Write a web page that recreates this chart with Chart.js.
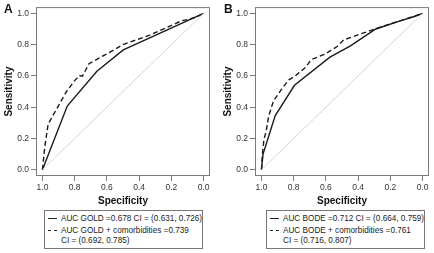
<!DOCTYPE html>
<html>
<head>
<meta charset="utf-8">
<script src="https://cdn.jsdelivr.net/npm/chart.js@4"></script>
<style>
  body { margin: 0; width: 434px; height: 253px; overflow: hidden; background: #fff; position: relative;
         font-family: "Liberation Sans", Arial, sans-serif; }
  canvas { position: absolute; top: 0; }
  #cA { left: 0; }
  #cB { left: 219px; }
  .tag { position: absolute; top: 2px; font-weight: bold; font-size: 12px; color: #111; }
  .legend { position: absolute; top: 210px; width: 157px; height: 37px; border: 1px solid #777;
            font-size: 8.2px; line-height: 10px; color: #222; }
  .row { position: absolute; white-space: nowrap; }
  .smp { display: inline-block; width: 9px; vertical-align: middle; border-top: 1px solid #222; margin-right: 4px; }
  .smp.dash { border-top-style: dashed; }
</style>
</head>
<body>
<canvas id="cA" width="217" height="208"></canvas>
<canvas id="cB" width="215" height="208"></canvas>
<div class="tag" style="left:4px">A</div>
<div class="tag" style="left:224px">B</div>

<div class="legend" style="left:44px">
  <div class="row" style="left:3px; top:3px"><span class="smp"></span>AUC GOLD =0.678 CI = (0.631, 0.726)</div>
  <div class="row" style="left:3px; top:15px"><span class="smp dash"></span>AUC GOLD + comorbidities =0.739</div>
  <div class="row" style="left:16px; top:25px">CI = (0.692, 0.785)</div>
</div>
<div class="legend" style="left:266px">
  <div class="row" style="left:3px; top:3px"><span class="smp"></span>AUC BODE =0.712 CI = (0.664, 0.759)</div>
  <div class="row" style="left:3px; top:15px"><span class="smp dash"></span>AUC BODE + comorbidities =0.761</div>
  <div class="row" style="left:16px; top:25px">CI = (0.716, 0.807)</div>
</div>

<script>
// osy
const tickVals = [0, 0.2, 0.4, 0.6, 0.8, 1.0];

// panel A - GOLD
const goldSpec = [1.0, 0.846, 0.662, 0.498, 0.0];
const goldSens = [0.0, 0.407, 0.630, 0.766, 1.0];
const goldComSpec = [1.0, 0.985, 0.965, 0.944, 0.90, 0.851, 0.80, 0.769, 0.752, 0.711, 0.583, 0.50, 0.335, 0.135, 0.10, 0.05, 0.0];
const goldComSens = [0.0, 0.15, 0.29, 0.33, 0.41, 0.50, 0.57, 0.602, 0.598, 0.678, 0.751, 0.80, 0.861, 0.953, 0.96, 0.975, 1.0];

// panel B - BODE
const bodeSpec = [1.0, 0.99, 0.915, 0.795, 0.575, 0.45, 0.29, 0.13, 0.05, 0.0];
const bodeSens = [0.0, 0.10, 0.345, 0.54, 0.72, 0.79, 0.90, 0.955, 0.98, 1.0];
const bodeComSpec = [1.0, 0.995, 0.985, 0.97, 0.955, 0.925, 0.875, 0.83, 0.79, 0.727, 0.69, 0.61, 0.53, 0.49, 0.38, 0.21, 0.13, 0.0];
const bodeComSens = [0.0, 0.09, 0.19, 0.25, 0.345, 0.44, 0.515, 0.575, 0.60, 0.654, 0.705, 0.737, 0.788, 0.83, 0.87, 0.93, 0.955, 1.0];

// referencni diagonala
const refSpec = [1.0, 0.0];
const refSens = [0.0, 1.0];

const FONT = '"Liberation Sans", Arial, sans-serif';

function pts(xs, ys) {
    return xs.map((x, i) => ({ x: x, y: ys[i] }));
}

// ramecek kolem plochy grafu
const framePlugin = {
    id: 'frame',
    afterDraw(chart) {
        const a = chart.chartArea;
        const ctx = chart.ctx;
        ctx.save();
        ctx.strokeStyle = '#7a7a7a';
        ctx.lineWidth = 1;
        ctx.strokeRect(a.left + 0.5, a.top + 0.5, a.right - a.left - 1, a.bottom - a.top - 1);
        ctx.restore();
    }
};

function makeChart(id, spec, sens, comSpec, comSens) {
    const ctx = document.getElementById(id).getContext('2d');
    new Chart(ctx, {
        type: 'scatter',
        data: {
            datasets: [
                { data: pts(refSpec, refSens), showLine: true, borderColor: '#d4d4d4', borderWidth: 1, pointRadius: 0 },
                { data: pts(comSpec, comSens), showLine: true, borderColor: '#1a1a1a', borderWidth: 1.4, borderDash: [5, 3], pointRadius: 0 },
                { data: pts(spec, sens), showLine: true, borderColor: '#1a1a1a', borderWidth: 1.4, pointRadius: 0 }
            ]
        },
        options: {
            responsive: false,
            animation: false,
            layout: { padding: { top: 1, right: id === 'cA' ? 7 : 5, left: 0, bottom: 0 } },
            plugins: { legend: { display: false }, tooltip: { enabled: false } },
            scales: {
                x: {
                    type: 'linear', reverse: true, min: -0.04, max: 1.04,
                    afterBuildTicks: s => { s.ticks = tickVals.map(v => ({ value: v })); },
                    afterFit: s => { s.height = 32; },
                    grid: { drawOnChartArea: false, tickLength: 5, color: '#7a7a7a' },
                    border: { display: false },
                    ticks: { font: { family: FONT, size: 8.5 }, color: '#333', padding: 2, maxRotation: 0,
                             callback: v => v.toFixed(1) },
                    title: { display: true, text: 'Specificity', color: '#111',
                             font: { family: FONT, size: 10, weight: 'bold' }, padding: { top: 0, bottom: 1 } }
                },
                y: {
                    type: 'linear', min: -0.04, max: 1.04,
                    afterBuildTicks: s => { s.ticks = tickVals.map(v => ({ value: v })); },
                    afterFit: s => { s.width = 36; },
                    grid: { drawOnChartArea: false, tickLength: 5, color: '#7a7a7a' },
                    border: { display: false },
                    ticks: { font: { family: FONT, size: 8.5 }, color: '#333', padding: 2,
                             callback: v => v.toFixed(1) },
                    title: { display: true, text: 'Sensitivity', color: '#111',
                             font: { family: FONT, size: 10, weight: 'bold' }, padding: { top: 3, bottom: 0 } }
                }
            }
        },
        plugins: [framePlugin]
    });
}

makeChart('cA', goldSpec, goldSens, goldComSpec, goldComSens);
makeChart('cB', bodeSpec, bodeSens, bodeComSpec, bodeComSens);
</script>
</body>
</html>
